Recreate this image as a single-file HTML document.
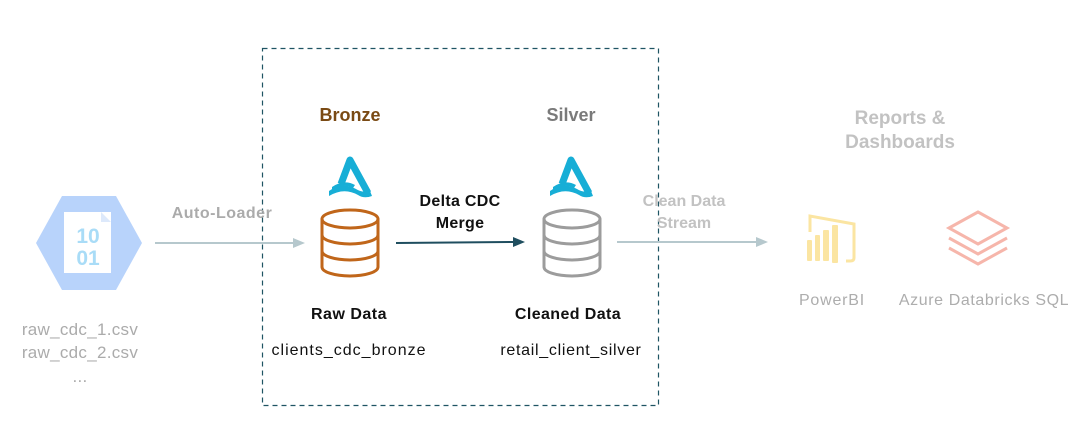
<!DOCTYPE html>
<html><head><meta charset="utf-8"><style>
html,body{margin:0;padding:0;background:#fff;}
svg{display:block;font-family:"Liberation Sans",sans-serif;}
</style></head><body>
<svg width="1085" height="441" viewBox="0 0 1085 441" xmlns="http://www.w3.org/2000/svg">
<defs>
<g id="cyl">
<ellipse cx="0" cy="-23" rx="28" ry="9" fill="none"/>
<path d="M-28,-23 V25 A28,9 0 0 0 28,25 V-23" fill="none"/>
<path d="M-28,-7 A28,9 0 0 0 28,-7 M-28,9 A28,9 0 0 0 28,9" fill="none"/>
</g>
<g id="delta">
<path d="M-9,7 L0,-17 L18,16" fill="none" stroke="#17aed6" stroke-width="7" stroke-linejoin="round"/>
<path d="M-21,19 Q-6,10 8,18 Q14,22 22,19 L20,14 Q12,16 6,12 Q-8,4 -21,14 Z" fill="#17aed6"/>
<path d="M-18,10 Q-6,2 5,8 L3,11 Q-7,6 -18,13 Z" fill="#17aed6"/>
</g>
</defs>
<rect x="262.5" y="48.5" width="396" height="357" fill="none" stroke="#1f5463" stroke-width="1.2" stroke-dasharray="5,4"/>
<!-- source hex -->
<polygon points="62,196 116,196 142,243 116,290 62,290 36,243" fill="#b8d3fb"/>
<rect x="64" y="212" width="47" height="61" fill="#fff"/>
<polygon points="101,212 111,222 101,222" fill="#dde9fb"/>
<text x="88" y="243" font-size="21" font-weight="bold" fill="#a9dcf7" text-anchor="middle">10</text>
<text x="88" y="265" font-size="21" font-weight="bold" fill="#a9dcf7" text-anchor="middle">01</text>
<g font-size="17" fill="#ababab" text-anchor="middle" letter-spacing="0.3">
<text x="80" y="335">raw_cdc_1.csv</text>
<text x="80" y="358">raw_cdc_2.csv</text>
<text x="80" y="382">...</text>
</g>
<text x="222" y="218" font-size="16" font-weight="bold" fill="#ababab" text-anchor="middle" letter-spacing="0.5">Auto-Loader</text>
<line x1="155" y1="243" x2="296" y2="243" stroke="#b6c8cd" stroke-width="2"/>
<polygon points="305,243 293,238 293,248" fill="#b6c8cd"/>
<!-- bronze -->
<text x="350" y="121" font-size="18" font-weight="bold" fill="#7a4a14" text-anchor="middle">Bronze</text>
<use href="#delta" x="350" y="177"/>
<use href="#cyl" x="350" y="242" stroke="#c0661a" stroke-width="3"/>
<text x="349" y="319" font-size="16" font-weight="bold" fill="#111" text-anchor="middle" letter-spacing="0.5">Raw Data</text>
<text x="349" y="355" font-size="16" fill="#111" text-anchor="middle" letter-spacing="1">clients_cdc_bronze</text>
<!-- merge -->
<text x="460" y="206" font-size="16" font-weight="bold" fill="#111" text-anchor="middle" letter-spacing="0.3">Delta CDC</text>
<text x="460" y="228" font-size="16" font-weight="bold" fill="#111" text-anchor="middle" letter-spacing="0.3">Merge</text>
<line x1="396" y1="243" x2="515" y2="242" stroke="#1f4e5f" stroke-width="2"/>
<polygon points="525,242 513,237 513,247" fill="#1f4e5f"/>
<!-- silver -->
<text x="571" y="121" font-size="18" font-weight="bold" fill="#7a7a7a" text-anchor="middle">Silver</text>
<use href="#delta" x="571" y="177"/>
<use href="#cyl" x="572" y="242" stroke="#9c9c9c" stroke-width="3"/>
<text x="568" y="319" font-size="16" font-weight="bold" fill="#111" text-anchor="middle" letter-spacing="0.4">Cleaned Data</text>
<text x="571" y="355" font-size="16" fill="#111" text-anchor="middle" letter-spacing="0.7">retail_client_silver</text>
<!-- clean stream -->
<text x="684" y="206" font-size="16" font-weight="bold" fill="#c2c2c2" text-anchor="middle">Clean Data</text>
<text x="684" y="228" font-size="16" font-weight="bold" fill="#c2c2c2" text-anchor="middle">Stream</text>
<line x1="617" y1="242" x2="758" y2="242" stroke="#b6c8cd" stroke-width="2"/>
<polygon points="768,242 756,237 756,247" fill="#b6c8cd"/>
<!-- reports -->
<text x="900" y="124" font-size="19" font-weight="bold" fill="#c2c2c2" text-anchor="middle">Reports &amp;</text>
<text x="900" y="148" font-size="19" font-weight="bold" fill="#c2c2c2" text-anchor="middle">Dashboards</text>
<!-- powerbi -->
<g fill="none" stroke="#fbe5a2" stroke-width="3">
<path d="M810,232 V216 L854,224 V258 Q854,261 850,261 H846"/>
</g>
<g fill="#fbe5a2">
<rect x="807" y="240" width="5" height="21" rx="1"/>
<rect x="815" y="235" width="5" height="26" rx="1"/>
<rect x="823" y="230" width="6" height="31" rx="1"/>
<rect x="832" y="225" width="6" height="38" rx="1"/>
</g>
<text x="832" y="305" font-size="16" fill="#adadad" text-anchor="middle" letter-spacing="0.8">PowerBI</text>
<!-- databricks -->
<g fill="none" stroke="#f6b6ab" stroke-width="3">
<path d="M949,228 L978,212 L1007,228 L978,244 Z"/>
<path d="M949,238 L978,254 L1007,238"/>
<path d="M949,248 L978,264 L1007,248"/>
</g>
<text x="984" y="305" font-size="16" fill="#adadad" text-anchor="middle" letter-spacing="0.6">Azure Databricks SQL</text>
</svg>
</body></html>
